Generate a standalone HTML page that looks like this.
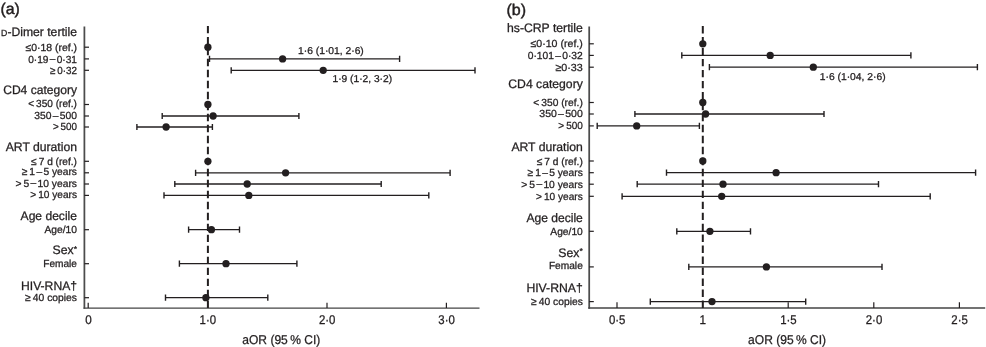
<!DOCTYPE html>
<html><head><meta charset="utf-8"><title>Forest plots</title>
<style>
html,body{margin:0;padding:0;background:#fff;}
body{width:986px;height:347px;overflow:hidden;}
svg{display:block;filter:blur(0.35px);text-rendering:geometricPrecision;font-family:"Liberation Sans",sans-serif;fill:#231f20;}
text{stroke:#231f20;stroke-width:0.28px;}
</style></head><body>
<svg width="986" height="347" viewBox="0 0 986 347">
<rect width="986" height="347" fill="#fff"/>
<text x="0.4" y="14.3" font-size="15.6" style="stroke-width:0.45px" textLength="19.4" lengthAdjust="spacingAndGlyphs">(a)</text>
<path d="M84.4 26.5V308.85" fill="none" stroke="#4c4c4c" stroke-width="1.75"/>
<path d="M83.5 308.1H479.5" fill="none" stroke="#444" stroke-width="1.45"/>
<path d="M207.9 25.9V308.1" stroke="#231f20" stroke-width="2" stroke-dasharray="7.4 3.59" fill="none"/>
<text x="1.1" y="36.2" font-size="12.3" textLength="75.9" lengthAdjust="spacingAndGlyphs"><tspan font-size="8.8">D</tspan>-Dimer tertile</text>
<text x="3.2" y="94.0" font-size="12.3" textLength="73.8" lengthAdjust="spacingAndGlyphs">CD4 category</text>
<text x="5.7" y="151.0" font-size="12.3" textLength="71.3" lengthAdjust="spacingAndGlyphs">ART duration</text>
<text x="20.6" y="219.8" font-size="12.3" textLength="56.4" lengthAdjust="spacingAndGlyphs">Age decile</text>
<text x="52.5" y="254.3" font-size="12.3" textLength="24.5" lengthAdjust="spacingAndGlyphs">Sex<tspan font-size="8.6" dy="-2.3">*</tspan></text>
<text x="21" y="289.7" font-size="12.3" textLength="56.0" lengthAdjust="spacingAndGlyphs">HIV-RNA†</text>
<text x="25.5" y="50.5" font-size="10.3" textLength="51.5" lengthAdjust="spacingAndGlyphs">≤0·18 (ref.)</text>
<path d="M84.4 47.2h4.6" stroke="#231f20" stroke-width="1.2"/>
<circle cx="207.9" cy="47.2" r="3.65" fill="#231f20"/>
<text x="28.2" y="62.7" font-size="10.3" textLength="48.8" lengthAdjust="spacingAndGlyphs">0·19<tspan dx="1.3" dy="-0.35">–</tspan><tspan dx="1.3" dy="0.35">0·31</tspan></text>
<path d="M84.4 58.9h4.6" stroke="#231f20" stroke-width="1.2"/>
<path d="M209.5 58.9H399.6" stroke="#231f20" stroke-width="1.3" fill="none"/>
<path d="M209.5 55.8v6.2M399.6 55.8v6.2" stroke="#231f20" stroke-width="1.4" fill="none"/>
<circle cx="282.6" cy="58.9" r="3.65" fill="#231f20"/>
<text x="49.9" y="73.6" font-size="10.3" textLength="27.1" lengthAdjust="spacingAndGlyphs">≥ 0·32</text>
<path d="M84.4 70.3h4.6" stroke="#231f20" stroke-width="1.2"/>
<path d="M231.2 70.3H475.0" stroke="#231f20" stroke-width="1.3" fill="none"/>
<path d="M231.2 67.2v6.2M475.0 67.2v6.2" stroke="#231f20" stroke-width="1.4" fill="none"/>
<circle cx="323.2" cy="70.3" r="3.65" fill="#231f20"/>
<text x="28.2" y="107" font-size="10.3" textLength="48.8" lengthAdjust="spacingAndGlyphs">&lt; 350 (ref.)</text>
<path d="M84.4 104.5h4.6" stroke="#231f20" stroke-width="1.2"/>
<circle cx="207.9" cy="104.5" r="3.65" fill="#231f20"/>
<text x="34.2" y="119.1" font-size="10.3" textLength="42.8" lengthAdjust="spacingAndGlyphs">350<tspan dx="1.3" dy="-0.35">–</tspan><tspan dx="1.3" dy="0.35">500</tspan></text>
<path d="M84.4 116.0h4.6" stroke="#231f20" stroke-width="1.2"/>
<path d="M162.2 116.0H298.9" stroke="#231f20" stroke-width="1.3" fill="none"/>
<path d="M162.2 112.9v6.2M298.9 112.9v6.2" stroke="#231f20" stroke-width="1.4" fill="none"/>
<circle cx="213.1" cy="116.0" r="3.65" fill="#231f20"/>
<text x="52.9" y="130.3" font-size="10.3" textLength="24.1" lengthAdjust="spacingAndGlyphs">&gt; 500</text>
<path d="M84.4 127.0h4.6" stroke="#231f20" stroke-width="1.2"/>
<path d="M136.9 127.0H212.4" stroke="#231f20" stroke-width="1.3" fill="none"/>
<path d="M136.9 123.9v6.2M212.4 123.9v6.2" stroke="#231f20" stroke-width="1.4" fill="none"/>
<circle cx="166.1" cy="127.0" r="3.65" fill="#231f20"/>
<text x="31.1" y="164.7" font-size="10.3" textLength="45.9" lengthAdjust="spacingAndGlyphs">≤ 7 d (ref.)</text>
<path d="M84.4 161.3h4.6" stroke="#231f20" stroke-width="1.2"/>
<circle cx="207.9" cy="161.3" r="3.65" fill="#231f20"/>
<text x="21.7" y="175.2" font-size="10.3" textLength="55.3" lengthAdjust="spacingAndGlyphs">≥ 1<tspan dx="1.3" dy="-0.35">–</tspan><tspan dx="1.3" dy="0.35">5 years</tspan></text>
<path d="M84.4 172.8h4.6" stroke="#231f20" stroke-width="1.2"/>
<path d="M195.6 172.8H450.1" stroke="#231f20" stroke-width="1.3" fill="none"/>
<path d="M195.6 169.7v6.2M450.1 169.7v6.2" stroke="#231f20" stroke-width="1.4" fill="none"/>
<circle cx="285.6" cy="172.8" r="3.65" fill="#231f20"/>
<text x="15.5" y="186.8" font-size="10.3" textLength="61.5" lengthAdjust="spacingAndGlyphs">&gt; 5<tspan dx="1.3" dy="-0.35">–</tspan><tspan dx="1.3" dy="0.35">10 years</tspan></text>
<path d="M84.4 184.0h4.6" stroke="#231f20" stroke-width="1.2"/>
<path d="M174.8 184.0H381.2" stroke="#231f20" stroke-width="1.3" fill="none"/>
<path d="M174.8 180.9v6.2M381.2 180.9v6.2" stroke="#231f20" stroke-width="1.4" fill="none"/>
<circle cx="247.2" cy="184.0" r="3.65" fill="#231f20"/>
<text x="30.2" y="198.3" font-size="10.3" textLength="46.8" lengthAdjust="spacingAndGlyphs">&gt; 10 years</text>
<path d="M84.4 195.4h4.6" stroke="#231f20" stroke-width="1.2"/>
<path d="M164.0 195.4H428.8" stroke="#231f20" stroke-width="1.3" fill="none"/>
<path d="M164.0 192.3v6.2M428.8 192.3v6.2" stroke="#231f20" stroke-width="1.4" fill="none"/>
<circle cx="248.8" cy="195.4" r="3.65" fill="#231f20"/>
<text x="44.4" y="232.7" font-size="10.3" textLength="32.6" lengthAdjust="spacingAndGlyphs">Age/10</text>
<path d="M84.4 229.7h4.6" stroke="#231f20" stroke-width="1.2"/>
<path d="M188.6 229.7H239.5" stroke="#231f20" stroke-width="1.3" fill="none"/>
<path d="M188.6 226.6v6.2M239.5 226.6v6.2" stroke="#231f20" stroke-width="1.4" fill="none"/>
<circle cx="211.4" cy="229.7" r="3.65" fill="#231f20"/>
<text x="43.2" y="266.7" font-size="10.3" textLength="33.8" lengthAdjust="spacingAndGlyphs">Female</text>
<path d="M84.4 263.7h4.6" stroke="#231f20" stroke-width="1.2"/>
<path d="M179.4 263.7H296.9" stroke="#231f20" stroke-width="1.3" fill="none"/>
<path d="M179.4 260.6v6.2M296.9 260.6v6.2" stroke="#231f20" stroke-width="1.4" fill="none"/>
<circle cx="226.0" cy="263.7" r="3.65" fill="#231f20"/>
<text x="25.1" y="301" font-size="10.3" textLength="51.9" lengthAdjust="spacingAndGlyphs">≥ 40 copies</text>
<path d="M84.4 297.7h4.6" stroke="#231f20" stroke-width="1.2"/>
<path d="M165.5 297.7H267.8" stroke="#231f20" stroke-width="1.3" fill="none"/>
<path d="M165.5 294.6v6.2M267.8 294.6v6.2" stroke="#231f20" stroke-width="1.4" fill="none"/>
<circle cx="205.9" cy="297.7" r="3.65" fill="#231f20"/>
<path d="M88.2 308.1v-5.4" stroke="#231f20" stroke-width="1.2"/>
<text x="85.15" y="324.1" font-size="12.6" textLength="6.5" lengthAdjust="spacingAndGlyphs">0</text>
<path d="M207.6 308.1v-5.4" stroke="#231f20" stroke-width="1.2"/>
<text x="199.55" y="324.1" font-size="12.6" textLength="16.5" lengthAdjust="spacingAndGlyphs">1·0</text>
<path d="M327.0 308.1v-5.4" stroke="#231f20" stroke-width="1.2"/>
<text x="318.95" y="324.1" font-size="12.6" textLength="16.5" lengthAdjust="spacingAndGlyphs">2·0</text>
<path d="M446.4 308.1v-5.4" stroke="#231f20" stroke-width="1.2"/>
<text x="438.35" y="324.1" font-size="12.6" textLength="16.5" lengthAdjust="spacingAndGlyphs">3·0</text>
<text x="242.3" y="343.8" font-size="12.8" textLength="78.0" lengthAdjust="spacingAndGlyphs">aOR (95 % CI)</text>
<text x="298.0" y="54.3" font-size="10" textLength="65.8" lengthAdjust="spacingAndGlyphs">1·6 (1·01, 2·6)</text>
<text x="332.5" y="82.4" font-size="10" textLength="59.6" lengthAdjust="spacingAndGlyphs">1·9 (1·2, 3·2)</text>
<text x="506.5" y="14.6" font-size="15.6" style="stroke-width:0.45px" textLength="19.6" lengthAdjust="spacingAndGlyphs">(b)</text>
<path d="M589.2 26.5V308.65" fill="none" stroke="#4c4c4c" stroke-width="1.75"/>
<path d="M588.3 307.9H985.2" fill="none" stroke="#444" stroke-width="1.45"/>
<path d="M702.8 26.0V307.9" stroke="#231f20" stroke-width="2" stroke-dasharray="7.4 3.58" fill="none"/>
<text x="507" y="32.4" font-size="12.3" textLength="75.8" lengthAdjust="spacingAndGlyphs">hs-CRP tertile</text>
<text x="508.3" y="88.1" font-size="12.3" textLength="74.5" lengthAdjust="spacingAndGlyphs">CD4 category</text>
<text x="511.4" y="151.2" font-size="12.3" textLength="71.4" lengthAdjust="spacingAndGlyphs">ART duration</text>
<text x="526.4" y="221.9" font-size="12.3" textLength="56.4" lengthAdjust="spacingAndGlyphs">Age decile</text>
<text x="558.3" y="256.7" font-size="12.3" textLength="24.5" lengthAdjust="spacingAndGlyphs">Sex<tspan font-size="8.6" dy="-2.3">*</tspan></text>
<text x="526.4" y="291.5" font-size="12.3" textLength="56.4" lengthAdjust="spacingAndGlyphs">HIV-RNA†</text>
<text x="530.5" y="47.4" font-size="10.3" textLength="52.3" lengthAdjust="spacingAndGlyphs">≤0·10 (ref.)</text>
<path d="M589.2 43.8h4.6" stroke="#231f20" stroke-width="1.2"/>
<circle cx="702.8" cy="43.8" r="3.65" fill="#231f20"/>
<text x="527.7" y="58.9" font-size="10.3" textLength="55.1" lengthAdjust="spacingAndGlyphs">0·101<tspan dx="1.3" dy="-0.35">–</tspan><tspan dx="1.3" dy="0.35">0·32</tspan></text>
<path d="M589.2 55.4h4.6" stroke="#231f20" stroke-width="1.2"/>
<path d="M681.8 55.4H910.9" stroke="#231f20" stroke-width="1.3" fill="none"/>
<path d="M681.8 52.3v6.2M910.9 52.3v6.2" stroke="#231f20" stroke-width="1.4" fill="none"/>
<circle cx="770.2" cy="55.4" r="3.65" fill="#231f20"/>
<text x="555.4" y="70.8" font-size="10.3" textLength="27.4" lengthAdjust="spacingAndGlyphs">≥0·33</text>
<path d="M589.2 67.2h4.6" stroke="#231f20" stroke-width="1.2"/>
<path d="M709.4 67.2H977.4" stroke="#231f20" stroke-width="1.3" fill="none"/>
<path d="M709.4 64.1v6.2M977.4 64.1v6.2" stroke="#231f20" stroke-width="1.4" fill="none"/>
<circle cx="813.3" cy="67.2" r="3.65" fill="#231f20"/>
<text x="533.3" y="105.6" font-size="10.3" textLength="49.5" lengthAdjust="spacingAndGlyphs">&lt; 350 (ref.)</text>
<path d="M589.2 102.5h4.6" stroke="#231f20" stroke-width="1.2"/>
<circle cx="702.8" cy="102.5" r="3.65" fill="#231f20"/>
<text x="539.3" y="117.1" font-size="10.3" textLength="43.5" lengthAdjust="spacingAndGlyphs">350<tspan dx="1.3" dy="-0.35">–</tspan><tspan dx="1.3" dy="0.35">500</tspan></text>
<path d="M589.2 114.0h4.6" stroke="#231f20" stroke-width="1.2"/>
<path d="M634.9 114.0H824.0" stroke="#231f20" stroke-width="1.3" fill="none"/>
<path d="M634.9 110.9v6.2M824.0 110.9v6.2" stroke="#231f20" stroke-width="1.4" fill="none"/>
<circle cx="705.6" cy="114.0" r="3.65" fill="#231f20"/>
<text x="558.3" y="129.2" font-size="10.3" textLength="24.5" lengthAdjust="spacingAndGlyphs">&gt; 500</text>
<path d="M589.2 125.9h4.6" stroke="#231f20" stroke-width="1.2"/>
<path d="M597.2 125.9H699.4" stroke="#231f20" stroke-width="1.3" fill="none"/>
<path d="M597.2 122.8v6.2M699.4 122.8v6.2" stroke="#231f20" stroke-width="1.4" fill="none"/>
<circle cx="636.7" cy="125.9" r="3.65" fill="#231f20"/>
<text x="536.7" y="164.5" font-size="10.3" textLength="46.1" lengthAdjust="spacingAndGlyphs">≤ 7 d (ref.)</text>
<path d="M589.2 161.0h4.6" stroke="#231f20" stroke-width="1.2"/>
<circle cx="702.8" cy="161.0" r="3.65" fill="#231f20"/>
<text x="527.5" y="176.2" font-size="10.3" textLength="55.3" lengthAdjust="spacingAndGlyphs">≥ 1<tspan dx="1.3" dy="-0.35">–</tspan><tspan dx="1.3" dy="0.35">5 years</tspan></text>
<path d="M589.2 172.7h4.6" stroke="#231f20" stroke-width="1.2"/>
<path d="M666.5 172.7H975.6" stroke="#231f20" stroke-width="1.3" fill="none"/>
<path d="M666.5 169.6v6.2M975.6 169.6v6.2" stroke="#231f20" stroke-width="1.4" fill="none"/>
<circle cx="776.1" cy="172.7" r="3.65" fill="#231f20"/>
<text x="521.3" y="187.7" font-size="10.3" textLength="61.5" lengthAdjust="spacingAndGlyphs">&gt; 5<tspan dx="1.3" dy="-0.35">–</tspan><tspan dx="1.3" dy="0.35">10 years</tspan></text>
<path d="M589.2 184.2h4.6" stroke="#231f20" stroke-width="1.2"/>
<path d="M637.2 184.2H878.5" stroke="#231f20" stroke-width="1.3" fill="none"/>
<path d="M637.2 181.1v6.2M878.5 181.1v6.2" stroke="#231f20" stroke-width="1.4" fill="none"/>
<circle cx="723.0" cy="184.2" r="3.65" fill="#231f20"/>
<text x="536" y="199.8" font-size="10.3" textLength="46.8" lengthAdjust="spacingAndGlyphs">&gt; 10 years</text>
<path d="M589.2 196.3h4.6" stroke="#231f20" stroke-width="1.2"/>
<path d="M622.1 196.3H930.2" stroke="#231f20" stroke-width="1.3" fill="none"/>
<path d="M622.1 193.2v6.2M930.2 193.2v6.2" stroke="#231f20" stroke-width="1.4" fill="none"/>
<circle cx="721.7" cy="196.3" r="3.65" fill="#231f20"/>
<text x="550.3" y="234.9" font-size="10.3" textLength="32.5" lengthAdjust="spacingAndGlyphs">Age/10</text>
<path d="M589.2 231.3h4.6" stroke="#231f20" stroke-width="1.2"/>
<path d="M676.8 231.3H750.5" stroke="#231f20" stroke-width="1.3" fill="none"/>
<path d="M676.8 228.2v6.2M750.5 228.2v6.2" stroke="#231f20" stroke-width="1.4" fill="none"/>
<circle cx="709.9" cy="231.3" r="3.65" fill="#231f20"/>
<text x="548.9" y="269.4" font-size="10.3" textLength="33.9" lengthAdjust="spacingAndGlyphs">Female</text>
<path d="M589.2 266.9h4.6" stroke="#231f20" stroke-width="1.2"/>
<path d="M688.8 266.9H882.0" stroke="#231f20" stroke-width="1.3" fill="none"/>
<path d="M688.8 263.8v6.2M882.0 263.8v6.2" stroke="#231f20" stroke-width="1.4" fill="none"/>
<circle cx="766.4" cy="266.9" r="3.65" fill="#231f20"/>
<text x="531.1" y="304.8" font-size="10.3" textLength="51.7" lengthAdjust="spacingAndGlyphs">≥ 40 copies</text>
<path d="M589.2 301.6h4.6" stroke="#231f20" stroke-width="1.2"/>
<path d="M650.3 301.6H805.7" stroke="#231f20" stroke-width="1.3" fill="none"/>
<path d="M650.3 298.5v6.2M805.7 298.5v6.2" stroke="#231f20" stroke-width="1.4" fill="none"/>
<circle cx="712.0" cy="301.6" r="3.65" fill="#231f20"/>
<path d="M617.0 307.9v-5.6" stroke="#231f20" stroke-width="1.2"/>
<text x="608.95" y="324.1" font-size="12.6" textLength="16.5" lengthAdjust="spacingAndGlyphs">0·5</text>
<path d="M702.6 307.9v-5.6" stroke="#231f20" stroke-width="1.2"/>
<text x="699.55" y="324.1" font-size="12.6" textLength="6.5" lengthAdjust="spacingAndGlyphs">1</text>
<path d="M788.2 307.9v-5.6" stroke="#231f20" stroke-width="1.2"/>
<text x="780.15" y="324.1" font-size="12.6" textLength="16.5" lengthAdjust="spacingAndGlyphs">1·5</text>
<path d="M873.8 307.9v-5.6" stroke="#231f20" stroke-width="1.2"/>
<text x="865.75" y="324.1" font-size="12.6" textLength="16.5" lengthAdjust="spacingAndGlyphs">2·0</text>
<path d="M959.4 307.9v-5.6" stroke="#231f20" stroke-width="1.2"/>
<text x="951.35" y="324.1" font-size="12.6" textLength="16.5" lengthAdjust="spacingAndGlyphs">2·5</text>
<text x="748.1" y="343.8" font-size="12.8" textLength="78.0" lengthAdjust="spacingAndGlyphs">aOR (95 % CI)</text>
<text x="819.8" y="80.3" font-size="10" textLength="65.8" lengthAdjust="spacingAndGlyphs">1·6 (1·04, 2·6)</text>
</svg>
</body></html>
